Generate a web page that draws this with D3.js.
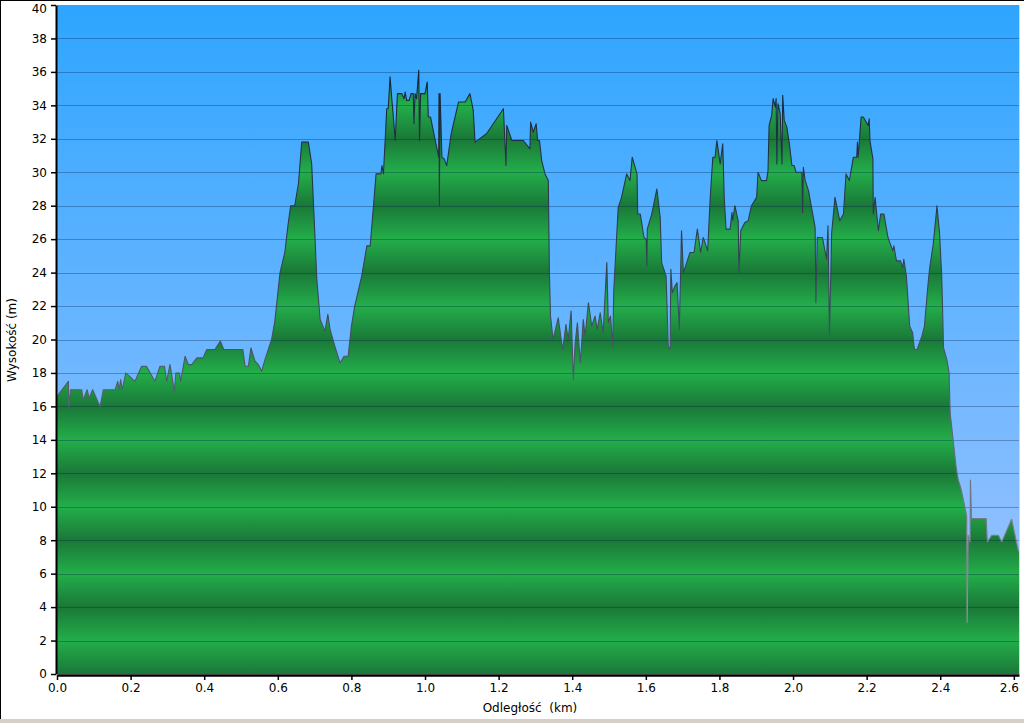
<!DOCTYPE html>
<html>
<head>
<meta charset="utf-8">
<script src="https://cdn.jsdelivr.net/npm/d3@7"></script>
<style>
html,body{margin:0;padding:0;background:#fff;}
svg{display:block;}
text{font-family:"DejaVu Sans",Verdana,sans-serif;fill:#000;}
</style>
</head>
<body>
<svg id="chart" width="1024" height="723"></svg>
<script>
const dist = [0.000,0.031,0.032,0.037,0.067,0.071,0.082,0.087,0.097,0.117,0.126,0.158,0.165,0.169,0.173,0.177,0.187,0.212,0.230,0.243,0.266,0.280,0.292,0.298,0.307,0.319,0.323,0.333,0.336,0.348,0.357,0.366,0.380,0.397,0.407,0.429,0.444,0.453,0.505,0.511,0.520,0.527,0.538,0.547,0.556,0.565,0.583,0.592,0.606,0.619,0.628,0.635,0.646,0.656,0.665,0.683,0.692,0.699,0.706,0.715,0.728,0.736,0.742,0.755,0.769,0.780,0.791,0.800,0.809,0.828,0.842,0.851,0.860,0.867,0.880,0.883,0.887,0.896,0.900,0.905,0.910,0.914,0.919,0.925,0.937,0.943,0.946,0.950,0.957,0.962,0.968,0.970,0.973,0.977,0.983,0.985,0.988,1.000,1.006,1.009,1.015,1.037,1.038,1.039,1.041,1.046,1.052,1.059,1.071,1.091,1.109,1.122,1.131,1.136,1.167,1.213,1.220,1.222,1.236,1.267,1.285,1.287,1.294,1.302,1.306,1.311,1.317,1.326,1.335,1.338,1.341,1.348,1.362,1.374,1.383,1.389,1.397,1.403,1.408,1.414,1.422,1.430,1.435,1.444,1.453,1.462,1.468,1.476,1.484,1.494,1.498,1.504,1.510,1.513,1.525,1.534,1.548,1.557,1.563,1.576,1.578,1.585,1.595,1.601,1.603,1.604,1.616,1.630,1.639,1.643,1.655,1.661,1.666,1.668,1.672,1.679,1.685,1.691,1.697,1.702,1.711,1.720,1.731,1.740,1.749,1.756,1.768,1.775,1.782,1.788,1.793,1.802,1.809,1.813,1.818,1.829,1.834,1.836,1.842,1.851,1.853,1.858,1.869,1.878,1.887,1.901,1.905,1.914,1.928,1.932,1.935,1.942,1.946,1.952,1.954,1.956,1.959,1.965,1.970,1.972,1.976,1.983,1.990,1.997,2.003,2.008,2.024,2.026,2.028,2.033,2.042,2.060,2.062,2.066,2.080,2.091,2.095,2.099,2.105,2.114,2.127,2.137,2.144,2.153,2.164,2.173,2.175,2.177,2.185,2.191,2.204,2.207,2.209,2.217,2.218,2.223,2.232,2.238,2.247,2.258,2.271,2.274,2.281,2.292,2.298,2.301,2.308,2.317,2.325,2.330,2.337,2.350,2.357,2.368,2.372,2.381,2.389,2.391,2.398,2.404,2.409,2.418,2.424,2.427,2.434,2.437,2.443,2.449,2.455,2.461,2.467,2.472,2.473,2.476,2.481,2.482,2.485,2.525,2.528,2.540,2.558,2.567,2.594,2.612,2.614];
const elev = [16.6,17.5,16.0,17.0,17.0,16.4,17.0,16.5,17.0,16.0,17.0,17.0,17.5,17.0,17.6,17.0,18.0,17.5,18.4,18.4,17.5,18.4,18.4,17.5,18.5,16.9,18.0,18.0,17.5,19.0,18.5,18.5,18.9,18.9,19.4,19.4,19.9,19.4,19.4,18.4,18.4,19.5,18.7,18.5,18.1,18.8,20.0,21.1,24.0,25.2,26.9,28.0,28.0,29.3,31.8,31.8,30.5,27.1,23.6,21.2,20.5,21.5,20.6,19.6,18.6,19.0,19.0,20.8,22.0,23.8,25.6,25.6,28.0,29.9,29.9,30.4,29.9,33.8,33.8,35.7,34.3,33.3,31.9,34.7,34.7,34.4,34.8,34.3,34.3,34.7,34.7,32.9,34.7,34.4,36.1,31.9,34.7,34.7,35.4,33.3,33.3,30.9,34.7,28.0,34.7,30.9,30.8,30.4,32.3,34.2,34.2,34.7,33.7,31.8,32.3,33.8,30.4,32.8,31.9,31.9,31.4,33.0,32.4,32.9,31.9,31.9,30.7,29.9,29.5,24.0,21.4,20.0,21.3,19.4,20.9,20.0,21.7,17.6,19.8,21.0,18.6,21.2,20.2,22.2,20.8,21.4,20.6,21.6,20.4,24.6,21.0,21.4,19.6,23.0,27.9,28.5,29.9,29.5,30.9,29.9,27.5,27.5,26.1,26.0,24.4,26.6,27.5,29.0,27.3,24.6,23.8,19.6,19.4,24.2,22.8,23.2,23.4,20.6,26.5,24.0,24.6,25.2,25.2,26.6,25.2,26.1,25.3,28.5,30.9,30.9,31.9,30.5,31.7,28.5,26.6,26.6,27.6,27.1,28.0,27.1,24.0,26.5,27.0,27.1,28.0,28.5,30.0,29.5,29.5,30.1,32.8,33.4,34.4,33.9,34.4,30.5,34.1,33.5,30.5,34.6,33.1,32.7,31.7,30.4,30.4,30.0,30.0,27.6,30.3,29.5,28.9,26.7,22.2,26.1,26.1,24.8,26.8,20.3,26.4,28.5,27.1,27.5,29.9,29.5,30.9,30.9,31.8,30.9,33.3,33.3,32.8,33.2,31.9,30.8,27.5,28.5,26.5,27.5,27.5,26.1,25.3,25.6,24.7,24.7,24.3,24.8,23.8,20.8,20.4,19.4,19.4,20.2,20.8,23.6,24.4,25.7,27.5,28.0,26.4,23.8,19.5,18.8,18.0,15.6,14.2,13.6,12.4,11.6,11.2,10.6,10.0,9.4,3.1,8.3,7.9,11.6,9.3,9.3,7.9,8.3,8.3,7.9,9.25,7.4,7.3];
const xTicks = [0,0.2,0.4,0.6,0.8,1.0,1.2,1.4,1.6,1.8,2.0,2.2,2.4,2.6];
const yTicks = [0,2,4,6,8,10,12,14,16,18,20,22,24,26,28,30,32,34,36,38,40];
const xTitle = "Odległość  (km)";
const yTitle = "Wysokość (m)";

const svg = d3.select("#chart");
const L = 57, R = 1019, T = 5, B = 674;
const x = d3.scaleLinear().domain([0, 2.614]).range([L, R]);
const y = d3.scaleLinear().domain([0, 40]).range([B, T]);
const data = dist.map((d, i) => ({d, e: elev[i]}));

const defs = svg.append("defs");
const bg = defs.append("linearGradient").attr("id", "bg").attr("gradientUnits", "userSpaceOnUse")
  .attr("x1", 0).attr("x2", 0).attr("y1", T).attr("y2", B);
bg.append("stop").attr("offset", 0).attr("stop-color", "#2ea5ff");
bg.append("stop").attr("offset", 1).attr("stop-color", "#a6c6ff");

const gr = defs.append("linearGradient").attr("id", "gr").attr("gradientUnits", "userSpaceOnUse")
  .attr("spreadMethod", "repeat")
  .attr("x1", 0).attr("x2", 0).attr("y1", y(4)).attr("y2", y(0));
gr.append("stop").attr("offset", 0).attr("stop-color", "#1a7838");
gr.append("stop").attr("offset", 0.5).attr("stop-color", "#23ae4a");
gr.append("stop").attr("offset", 1).attr("stop-color", "#1a7838");

const ln = defs.append("linearGradient").attr("id", "ln").attr("gradientUnits", "userSpaceOnUse")
  .attr("x1", 0).attr("x2", 0).attr("y1", T).attr("y2", B);
ln.append("stop").attr("offset", 0).attr("stop-color", "#0c1a30");
ln.append("stop").attr("offset", 0.45).attr("stop-color", "#3a4a5a");
ln.append("stop").attr("offset", 1).attr("stop-color", "#a0a0a8");

// window frame
svg.append("rect").attr("x", 0).attr("y", 0).attr("width", 1024).attr("height", 723).attr("fill", "#fff");
svg.append("rect").attr("x", 0).attr("y", 719).attr("width", 1024).attr("height", 4).attr("fill", "#d4d0c8");
svg.append("line").attr("x1", 0).attr("x2", 1024).attr("y1", 0.5).attr("y2", 0.5).attr("stroke", "#000");
svg.append("line").attr("x1", 0.5).attr("x2", 0.5).attr("y1", 0).attr("y2", 719).attr("stroke", "#000");

// plot background
svg.append("rect").attr("x", L).attr("y", T).attr("width", R - L).attr("height", B - T).attr("fill", "url(#bg)");

// area
const area = d3.area().x(d => x(d.d)).y0(y(0)).y1(d => y(d.e));
svg.append("path").datum(data).attr("d", area).attr("fill", "url(#gr)");

// grid lines
svg.append("g").selectAll("line").data(yTicks.filter(v => v > 0 && v < 40)).join("line")
  .attr("x1", L).attr("x2", R).attr("y1", d => Math.round(y(d)) + 0.5).attr("y2", d => Math.round(y(d)) + 0.5)
  .attr("stroke", "rgba(0,30,70,0.32)").attr("stroke-width", 1);

// outline
const line = d3.line().x(d => x(d.d)).y(d => y(d.e));
svg.append("path").datum(data).attr("d", line).attr("fill", "none")
  .attr("stroke", "url(#ln)").attr("stroke-width", 1.1).attr("stroke-linejoin", "round");

// right edge
svg.append("line").attr("x1", R + 0.5).attr("x2", R + 0.5).attr("y1", T).attr("y2", B)
  .attr("stroke", "#c8d8e8").attr("stroke-width", 1);

// axes
const yAxis = d3.axisLeft(y).tickValues(yTicks).tickFormat(d3.format("d")).tickSize(5).tickSizeOuter(0);
const gy = svg.append("g").attr("transform", `translate(${L - 1},0)`).call(yAxis);
gy.select(".domain").attr("stroke", "#000").attr("stroke-width", 2);
gy.selectAll(".tick line").attr("stroke", "#000").attr("stroke-width", 1.5);
gy.selectAll(".tick text").attr("font-size", 12).attr("font-family", "DejaVu Sans, Verdana, sans-serif").attr("x", -9);
gy.selectAll(".tick").filter(d => d === 40).select("text").attr("y", 4);

const xAxis = d3.axisBottom(x).tickValues(xTicks).tickFormat(d3.format(".1f")).tickSize(5).tickSizeOuter(0);
const gx = svg.append("g").attr("transform", `translate(0,${B + 1})`).call(xAxis);
gx.select(".domain").attr("stroke", "#000").attr("stroke-width", 2.5);
gx.selectAll(".tick line").attr("stroke", "#000").attr("stroke-width", 1.5);
gx.selectAll(".tick text").attr("font-size", 12).attr("font-family", "DejaVu Sans, Verdana, sans-serif").attr("y", 8);
gx.selectAll(".tick").filter(d => d === 2.6).select("text").attr("x", -5);

svg.append("text").attr("x", 530).attr("y", 712).attr("text-anchor", "middle")
  .attr("font-size", 12).style("white-space", "pre").text(xTitle);
svg.append("text").attr("transform", "translate(16,340) rotate(-90)").attr("text-anchor", "middle")
  .attr("font-size", 12).text(yTitle);
</script>
</body>
</html>
